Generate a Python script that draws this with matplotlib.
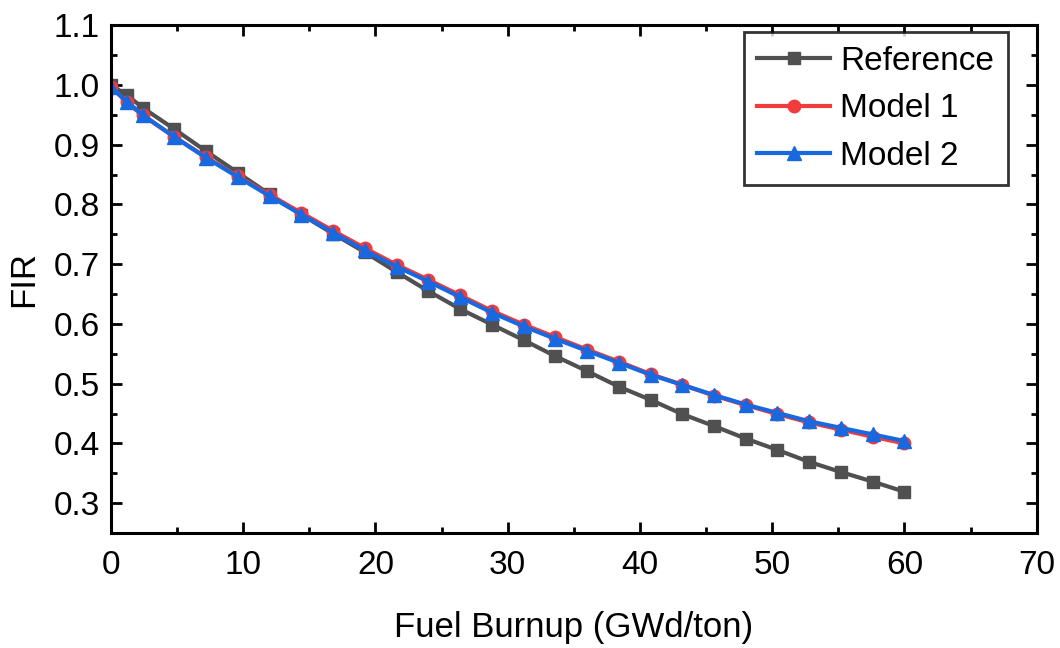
import numpy as np
import matplotlib
matplotlib.use("Agg")
import matplotlib.pyplot as plt
from matplotlib.ticker import MultipleLocator

plt.rcParams['font.family'] = ['Liberation Sans', 'DejaVu Sans']

# burnup steps (GWd/ton)
burnup = [0, 1.2, 2.4, 4.8, 7.2, 9.6, 12.0, 14.4, 16.8, 19.2, 21.6, 24.0, 26.4, 28.8,
          31.2, 33.6, 36.0, 38.4, 40.8, 43.2, 45.6, 48.0, 50.4, 52.8, 55.2, 57.6, 60.0]

fir_ref = [1.000, 0.983, 0.962, 0.926, 0.889, 0.853, 0.817, 0.783, 0.751, 0.720, 0.687,
           0.655, 0.625, 0.599, 0.573, 0.546, 0.521, 0.495, 0.473, 0.449, 0.429, 0.408,
           0.389, 0.369, 0.352, 0.336, 0.319]

fir_m1 = [0.997, 0.971, 0.949, 0.913, 0.879, 0.847, 0.816, 0.786, 0.756, 0.727, 0.699,
          0.674, 0.648, 0.622, 0.599, 0.578, 0.557, 0.537, 0.516, 0.498, 0.480, 0.464,
          0.449, 0.435, 0.423, 0.411, 0.400]

fir_m2 = [0.997, 0.972, 0.950, 0.913, 0.878, 0.846, 0.814, 0.783, 0.753, 0.723, 0.696,
          0.671, 0.645, 0.619, 0.596, 0.575, 0.555, 0.535, 0.515, 0.498, 0.481, 0.465,
          0.451, 0.437, 0.426, 0.415, 0.404]

fig = plt.figure(figsize=(10.6, 6.48), dpi=100)
ax = fig.add_axes([0.1047, 0.1775, 0.8733, 0.7835])

lw = 3.0
ax.plot(burnup, fir_ref, color='#505050', lw=lw, marker='s', ms=9, label='Reference')
ax.plot(burnup, fir_m1, color='#f23b3b', lw=lw, marker='o', ms=9, label='Model 1')
ax.plot(burnup, fir_m2, color='#1868e0', lw=lw, marker='^', ms=10.5, label='Model 2')

ax.set_xlim(0, 70)
ax.set_ylim(0.25, 1.1)
ax.xaxis.set_major_locator(MultipleLocator(10))
ax.xaxis.set_minor_locator(MultipleLocator(5))
ax.yaxis.set_minor_locator(MultipleLocator(0.05))
ax.set_yticks(np.arange(0.3, 1.11, 0.1))
ax.set_yticklabels(['0.3', '0.4', '0.5', '0.6', '0.7', '0.8', '0.9', '1.0', '1.1'])

for s in ax.spines.values():
    s.set_linewidth(2.2)
ax.tick_params(which='both', direction='in', top=True, right=True, width=2.0,
               labelsize=24, pad=8)
ax.tick_params(which='major', length=8)
ax.tick_params(which='minor', length=4.5)
ax.tick_params(axis='x', pad=12)

ax.set_xlabel('Fuel Burnup (GWd/ton)', fontsize=25, labelpad=22)
ax.set_ylabel('FIR', fontsize=25, labelpad=10)

leg = ax.legend(loc='upper right', bbox_to_anchor=(0.9687, 0.986), fontsize=24,
                frameon=True, fancybox=False, edgecolor='black', handlelength=2.2,
                handletextpad=0.3, borderpad=0.4, labelspacing=0.5, borderaxespad=0)
leg.get_frame().set_linewidth(2.0)

fig.savefig('out.png', dpi=100)
